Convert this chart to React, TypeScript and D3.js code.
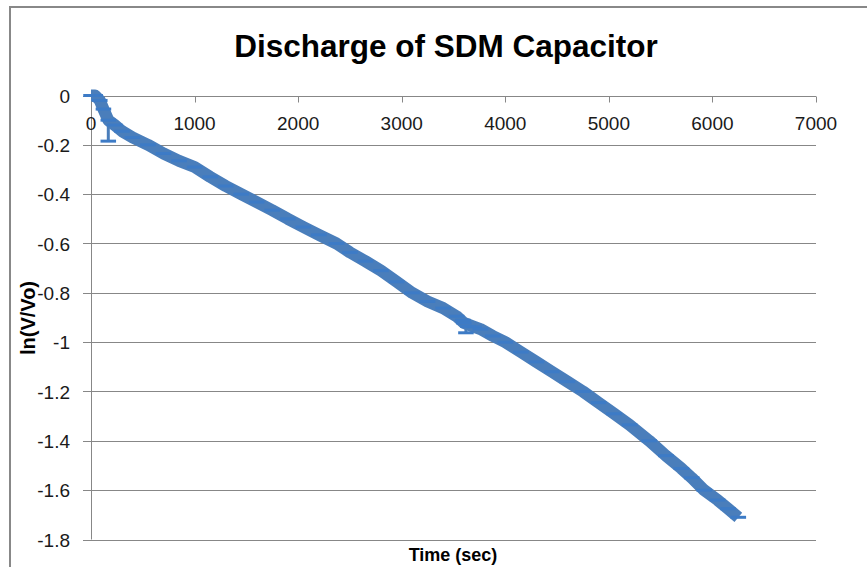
import React, { useRef, useEffect } from 'react';
import * as d3 from 'd3';

// time (s) and ln(V/Vo)
const timeSec = [0, 40, 85, 120, 167, 230, 300, 400, 550, 700, 850, 1000, 1150, 1300, 1450, 1600, 1750, 1900, 2050, 2200, 2370, 2500, 2650, 2800, 2950, 3100, 3250, 3400, 3530, 3600, 3700, 3760, 3880, 4000, 4150, 4300, 4450, 4600, 4750, 4900, 5050, 5200, 5390, 5550, 5700, 5800, 5920, 6050, 6150, 6250];
const lnRatio = [0, 0, -0.02, -0.055, -0.1, -0.12, -0.145, -0.17, -0.2, -0.235, -0.265, -0.29, -0.33, -0.367, -0.4, -0.432, -0.465, -0.5, -0.533, -0.565, -0.6, -0.636, -0.672, -0.71, -0.755, -0.8, -0.835, -0.862, -0.895, -0.922, -0.938, -0.947, -0.975, -1.0, -1.04, -1.08, -1.12, -1.16, -1.2, -1.245, -1.29, -1.335, -1.4, -1.46, -1.512, -1.55, -1.6, -1.64, -1.675, -1.71];

// stray readings off the main band
const outlierTime = [167, 3590, 3640, 3620];
const outlierLn = [-0.185, -0.911, -0.936, -0.962];

const timeErr = 75; // horizontal error bar half width (s)

const xTicks = [0, 1000, 2000, 3000, 4000, 5000, 6000, 7000];
const yTicks = [0, -0.2, -0.4, -0.6, -0.8, -1, -1.2, -1.4, -1.6, -1.8];
const yTickLabels = ['0', '-0.2', '-0.4', '-0.6', '-0.8', '-1', '-1.2', '-1.4', '-1.6', '-1.8'];

const W = 867;
const H = 567;

const App: React.FC = () => {
    const ref = useRef<SVGSVGElement>(null);

    useEffect(() => {
        const svg = d3.select(ref.current);
        svg.selectAll('*').remove();

        const font = '"Liberation Sans", Arial, sans-serif';
        const gridColor = '#878787';
        const blue = '#4A7EBB';

        const x = d3.scaleLinear().domain([0, 7000]).range([91, 816]);
        const y = d3.scaleLinear().domain([0, -1.8]).range([95.5, 539.5]);

        // chart border
        svg.append('rect')
            .attr('x', 10).attr('y', 7)
            .attr('width', 900).attr('height', 600)
            .attr('fill', 'white')
            .attr('stroke', '#888')
            .attr('stroke-width', 2);

        // title
        svg.append('text')
            .attr('x', 446).attr('y', 57)
            .attr('text-anchor', 'middle')
            .style('font-family', font)
            .style('font-size', '31.5px')
            .style('font-weight', 'bold')
            .text('Discharge of SDM Capacitor');

        // horizontal gridlines + y ticks
        const grid = svg.append('g');
        grid.selectAll('line')
            .data(yTicks.filter(v => v !== 0))
            .enter()
            .append('line')
            .attr('x1', 83).attr('x2', x(7000))
            .attr('y1', d => Math.round(y(d)) + 0.5)
            .attr('y2', d => Math.round(y(d)) + 0.5)
            .attr('stroke', gridColor);

        // y axis line
        svg.append('line')
            .attr('x1', x(0) + 0.5).attr('x2', x(0) + 0.5)
            .attr('y1', y(0)).attr('y2', y(-1.8))
            .attr('stroke', gridColor);

        // x axis along 0, ticks pointing down
        const xAxisY = Math.round(y(0)) + 0.5;
        svg.append('line')
            .attr('x1', 83).attr('x2', x(7000))
            .attr('y1', xAxisY).attr('y2', xAxisY)
            .attr('stroke', gridColor);
        svg.append('g').selectAll('line')
            .data(xTicks)
            .enter()
            .append('line')
            .attr('x1', d => Math.round(x(d)) + 0.5)
            .attr('x2', d => Math.round(x(d)) + 0.5)
            .attr('y1', xAxisY).attr('y2', xAxisY + 6)
            .attr('stroke', gridColor);

        // tick labels
        svg.append('g').selectAll('text')
            .data(yTicks)
            .enter()
            .append('text')
            .attr('x', 70)
            .attr('y', d => y(d) + 7)
            .attr('text-anchor', 'end')
            .style('font-family', font)
            .style('font-size', '19px')
            .style('fill', '#1a1a1a')
            .text((d, i) => yTickLabels[i]);

        svg.append('g').selectAll('text')
            .data(xTicks)
            .enter()
            .append('text')
            .attr('x', d => x(d))
            .attr('y', 129.5)
            .attr('text-anchor', 'middle')
            .style('font-family', font)
            .style('font-size', '19px')
            .style('fill', '#1a1a1a')
            .text(d => String(d));

        // axis titles
        svg.append('text')
            .attr('x', 453).attr('y', 561)
            .attr('text-anchor', 'middle')
            .style('font-family', font)
            .style('font-size', '18px')
            .style('font-weight', 'bold')
            .text('Time (sec)');

        svg.append('text')
            .attr('transform', 'translate(35,318) rotate(-90)')
            .attr('text-anchor', 'middle')
            .style('font-family', font)
            .style('font-size', '20px')
            .style('font-weight', 'bold')
            .text('ln(V/Vo)');

        const pts = timeSec.map((t, i) => ({ t, v: lnRatio[i] }));
        const outliers = outlierTime.map((t, i) => ({ t, v: outlierLn[i] }));

        // stray readings: thin spike from the curve
        const series = svg.append('g');
        series.selectAll('.spike')
            .data(outliers)
            .enter()
            .append('line')
            .attr('class', 'spike')
            .attr('x1', d => x(d.t)).attr('x2', d => x(d.t))
            .attr('y1', d => {
                const near = pts.reduce((a, b) => Math.abs(b.t - d.t) < Math.abs(a.t - d.t) ? b : a);
                return y(near.v);
            })
            .attr('y2', d => y(d.v))
            .attr('stroke', blue)
            .attr('stroke-width', 3);

        // dense readings -> thick band
        const line = d3.line<{ t: number; v: number }>()
            .x(d => x(d.t))
            .y(d => y(d.v));
        series.append('path')
            .datum(pts)
            .attr('d', line)
            .attr('fill', 'none')
            .attr('stroke', blue)
            .attr('stroke-width', 12)
            .attr('stroke-linejoin', 'round');

        // x error bars
        series.selectAll('.xerr')
            .data(pts.concat(outliers))
            .enter()
            .append('line')
            .attr('class', 'xerr')
            .attr('x1', d => x(d.t - timeErr))
            .attr('x2', d => x(d.t + timeErr))
            .attr('y1', d => y(d.v))
            .attr('y2', d => y(d.v))
            .attr('stroke', '#3D7BC6')
            .attr('stroke-width', 3);
    }, []);

    return (
        <svg
            ref={ref}
            width={W}
            height={H}
            style={{ position: 'absolute', left: 0, top: 0, background: 'white' }}
        />
    );
};

export default App;
